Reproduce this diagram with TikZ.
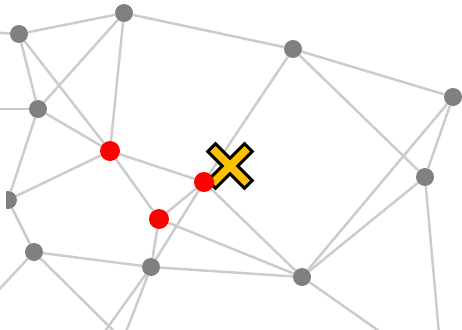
\documentclass[tikz,border=0pt]{standalone}
\usetikzlibrary{backgrounds}
\definecolor{edgeGray}{RGB}{204,204,204}
\definecolor{nodeGray}{RGB}{128,128,128}
\definecolor{hitRed}{RGB}{255,0,0}
\definecolor{markAmber}{RGB}{255,192,0}

\begin{document}
\begin{tikzpicture}[
    x=1pt,y=-1pt,
    gnode/.style={circle,fill=nodeGray,minimum size=18pt,inner sep=0pt},
    rnode/.style={circle,fill=hitRed,minimum size=20pt,inner sep=0pt},
    edge/.style={draw=edgeGray,line width=2.5pt}
  ]
    \useasboundingbox (0,0) rectangle (462,329);
    \clip (6,0) rectangle (462,329);

    % gray vertices
    \node[gnode] (a) at (19,34) {};
    \node[gnode] (b) at (124,13) {};
    \node[gnode] (c) at (38,109) {};
    \node[gnode] (d) at (293,49) {};
    \node[gnode] (e) at (453,97) {};
    \node[gnode] (f) at (8,200) {};
    \node[gnode] (g) at (34,252) {};
    \node[gnode] (h) at (151,267) {};
    \node[gnode] (i) at (425,177) {};
    \node[gnode] (j) at (302,277) {};

    % red vertices
    \node[rnode] (r1) at (110,151) {};
    \node[rnode] (r2) at (159,219) {};
    \node[rnode] (r3) at (204,182) {};

    % neighbours outside the frame
    \coordinate (o1) at (-15,32);
    \coordinate (o2) at (-15,109);
    \coordinate (o3) at (440,345);
    \coordinate (o4) at (399,345);
    \coordinate (o5) at (95,345);
    \coordinate (o6) at (121,345);
    \coordinate (o7) at (-20,310);
    \coordinate (o8) at (128,345);

    \begin{scope}[on background layer]
      \draw[edge] (a) -- (b);
      \draw[edge] (a) -- (c);
      \draw[edge] (a) -- (r1);
      \draw[edge] (a) -- (o1);
      \draw[edge] (b) -- (c);
      \draw[edge] (b) -- (r1);
      \draw[edge] (b) -- (d);
      \draw[edge] (c) -- (r1);
      \draw[edge] (c) -- (f);
      \draw[edge] (c) -- (o2);
      \draw[edge] (r1) -- (r3);
      \draw[edge] (r1) -- (r2);
      \draw[edge] (r1) -- (f);
      \draw[edge] (d) -- (e);
      \draw[edge] (d) -- (r3);
      \draw[edge] (d) -- (i);
      \draw[edge] (e) -- (i);
      \draw[edge] (e) -- (j);
      \draw[edge] (i) -- (j);
      \draw[edge] (i) -- (o3);
      \draw[edge] (j) -- (o4);
      \draw[edge] (r3) -- (j);
      \draw[edge] (r2) -- (j);
      \draw[edge] (h) -- (j);
      \draw[edge] (h) -- (g);
      \draw[edge] (h) -- (r2);
      \draw[edge] (h) -- (r3);
      \draw[edge] (h) -- (o5);
      \draw[edge] (h) -- (o6);
      \draw[edge] (g) -- (f);
      \draw[edge] (g) -- (o7);
      \draw[edge] (g) -- (o8);
      \draw[edge] (r2) -- (r3);

      % cross marker
      \draw[fill=markAmber,line width=3pt,line join=miter,shift={(230,166)},rotate=45]
        (-5.5,26) -- (5.5,26) -- (5.5,5.5) -- (26,5.5) -- (26,-5.5) -- (5.5,-5.5)
        -- (5.5,-26) -- (-5.5,-26) -- (-5.5,-5.5) -- (-26,-5.5) -- (-26,5.5)
        -- (-5.5,5.5) -- cycle;
    \end{scope}
  \end{tikzpicture}
\end{document}
